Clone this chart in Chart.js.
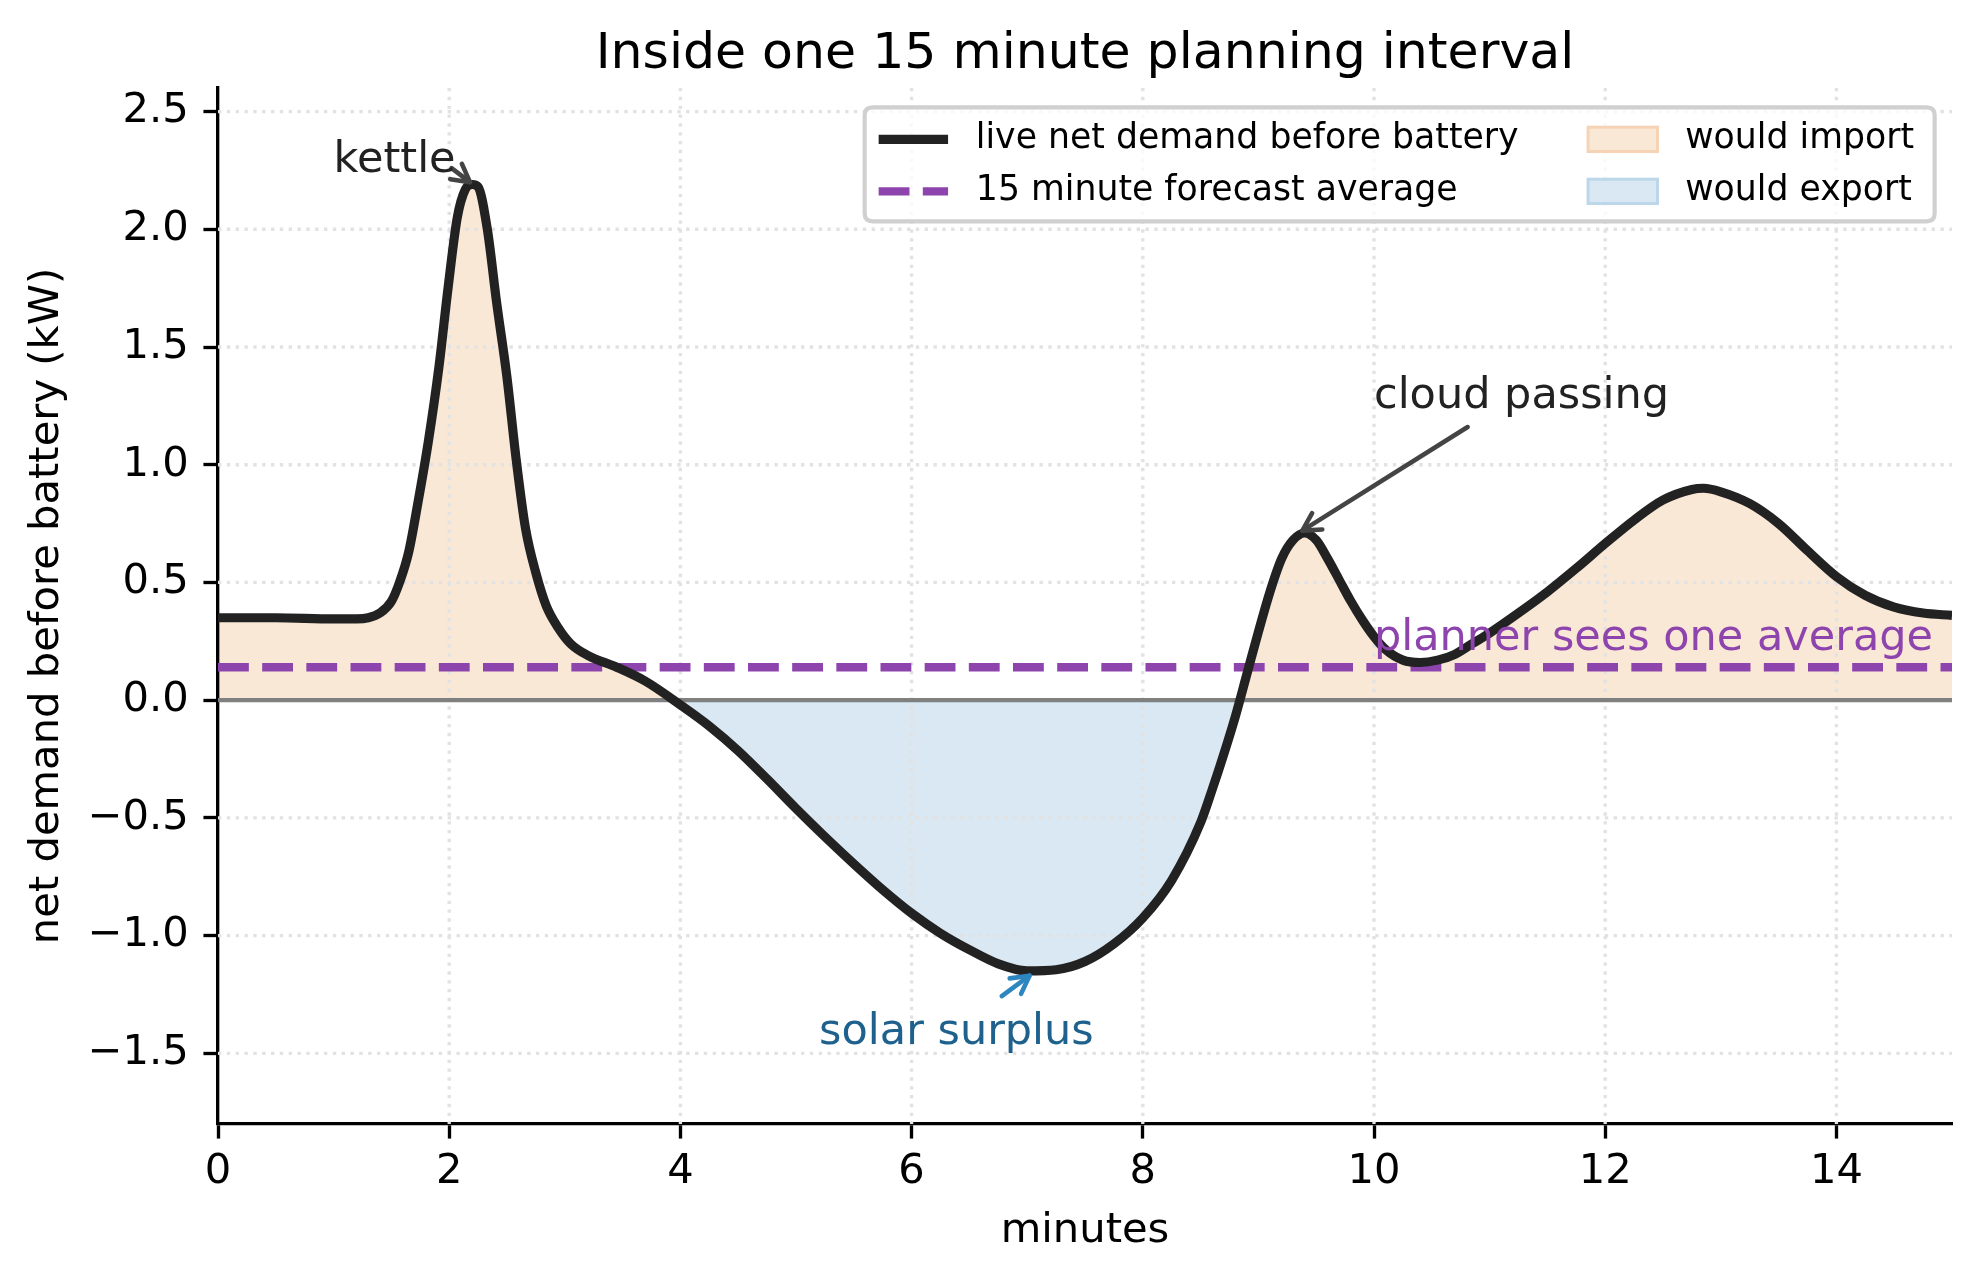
<!DOCTYPE html>
<html><head><meta charset="utf-8">
<script src="https://cdn.jsdelivr.net/npm/chart.js@4.4.1/dist/chart.umd.min.js"></script>
<style>html,body{margin:0;padding:0;background:#fff;} canvas{display:block;}</style>
</head><body>
<canvas id="c" width="1980" height="1279"></canvas>
<script>
// ---- data ----
const minutes = [0.0, 0.5, 1.0, 1.2, 1.3, 1.4, 1.5, 1.57, 1.65, 1.73, 1.82, 1.91, 1.99, 2.07, 2.14, 2.2, 2.25, 2.33, 2.41, 2.5, 2.58, 2.66, 2.75, 2.84, 2.94, 3.05, 3.2, 3.45, 3.7, 4.0, 4.25, 4.5, 4.75, 5.0, 5.25, 5.5, 5.75, 6.0, 6.25, 6.5, 6.75, 7.0, 7.25, 7.5, 7.75, 8.0, 8.25, 8.5, 8.6, 8.7, 8.8, 8.9, 9.0, 9.1, 9.2, 9.3, 9.4, 9.5, 9.6, 9.7, 9.8, 9.9, 10.0, 10.1, 10.25, 10.4, 10.55, 10.7, 10.85, 11.0, 11.25, 11.5, 11.75, 12.0, 12.25, 12.5, 12.75, 12.85, 13.0, 13.25, 13.5, 13.75, 14.0, 14.25, 14.5, 14.75, 15.0];
const netDemand = [0.35, 0.35, 0.345, 0.345, 0.35, 0.37, 0.42, 0.50, 0.63, 0.84, 1.10, 1.41, 1.75, 2.05, 2.17, 2.19, 2.18, 2.0, 1.69, 1.37, 1.02, 0.73, 0.54, 0.40, 0.31, 0.24, 0.19, 0.14, 0.08, -0.02, -0.11, -0.215, -0.335, -0.46, -0.58, -0.695, -0.805, -0.905, -0.99, -1.06, -1.12, -1.15, -1.145, -1.11, -1.035, -0.925, -0.765, -0.52, -0.38, -0.23, -0.07, 0.11, 0.29, 0.46, 0.60, 0.68, 0.71, 0.68, 0.60, 0.51, 0.42, 0.34, 0.27, 0.215, 0.17, 0.16, 0.17, 0.195, 0.24, 0.285, 0.37, 0.46, 0.56, 0.665, 0.765, 0.85, 0.895, 0.90, 0.885, 0.835, 0.75, 0.635, 0.525, 0.445, 0.395, 0.37, 0.36];
const forecastAverage = 0.14;
const xTicks = [0, 2, 4, 6, 8, 10, 12, 14];
const yTicks = [-1.5, -1.0, -0.5, 0.0, 0.5, 1.0, 1.5, 2.0, 2.5];
const xRange = [0, 15];
const yRange = [-1.8, 2.6];
const titleText = 'Inside one 15 minute planning interval';
const xLabel = 'minutes';
const yLabel = 'net demand before battery (kW)';
const legendLabels = ['live net demand before battery', '15 minute forecast average', 'would import', 'would export'];
const annotations = [
  {text: 'kettle', at: [1.0, 2.245], from: [2.02, 2.26], to: [2.18, 2.20], color: '#222222', arrow: '#444444'},
  {text: 'cloud passing', at: [10.0, 1.24], from: [10.81, 1.16], to: [9.38, 0.72], color: '#222222', arrow: '#444444'},
  {text: 'solar surplus', at: [5.2, -1.459], from: [6.78, -1.257], to: [7.02, -1.17], color: '#1f618d', arrow: '#2e86c1'},
  {text: 'planner sees one average', at: [10.0, 0.215], color: '#8e44ad'}
];

// ---- styles ----
const FONT = "'DejaVu Sans', sans-serif";
const importFill = '#fae8d7';
const exportFill = '#d9e8f2';
const lineColor = '#222222';
const avgColor = '#8e44ad';
const PT = 300 / 72;

const curve = minutes.map((m, i) => ({x: m, y: netDemand[i]}));
const avgLine = xRange.map(v => ({x: v, y: forecastAverage}));
const zeroLine = xRange.map(v => ({x: v, y: 0}));

const gridPlugin = {
  id: 'mplGrid',
  beforeDatasetsDraw(chart) {
    const {ctx, chartArea: a, scales: {x, y}} = chart;
    ctx.save();
    ctx.strokeStyle = '#e2e2e2';
    ctx.lineWidth = 0.8 * PT;
    ctx.setLineDash([0.8 * PT, 1.32 * PT]);
    xTicks.forEach(v => {
      if (v === xRange[0]) return;
      const px = x.getPixelForValue(v);
      ctx.beginPath(); ctx.moveTo(px, a.top); ctx.lineTo(px, a.bottom); ctx.stroke();
    });
    yTicks.forEach(v => {
      const py = y.getPixelForValue(v);
      ctx.beginPath(); ctx.moveTo(a.left, py); ctx.lineTo(a.right, py); ctx.stroke();
    });
    ctx.restore();
  }
};

function arrowHead(ctx, x0, y0, x1, y1, len, ang) {
  const t = Math.atan2(y0 - y1, x0 - x1);
  ctx.beginPath();
  ctx.moveTo(x1 + len * Math.cos(t + ang), y1 + len * Math.sin(t + ang));
  ctx.lineTo(x1, y1);
  ctx.lineTo(x1 + len * Math.cos(t - ang), y1 + len * Math.sin(t - ang));
  ctx.stroke();
}

const annotPlugin = {
  id: 'annot',
  afterDatasetsDraw(chart) {
    const {ctx, chartArea: a, scales: {x, y}} = chart;
    ctx.save();
    ctx.font = `${50.5}px ${FONT}`;
    ctx.fillStyle = '#000';
    ctx.textAlign = 'center';
    ctx.textBaseline = 'alphabetic';
    ctx.fillText(titleText, (a.left + a.right) / 2, 68);
    ctx.font = `${43}px ${FONT}`;
    ctx.textAlign = 'left';
    annotations.forEach(an => {
      if (an.from) {
        const x0 = x.getPixelForValue(an.from[0]), y0 = y.getPixelForValue(an.from[1]);
        const x1 = x.getPixelForValue(an.to[0]), y1 = y.getPixelForValue(an.to[1]);
        ctx.strokeStyle = an.arrow;
        ctx.lineWidth = 1.1 * PT;
        ctx.lineCap = 'round';
        ctx.lineJoin = 'round';
        ctx.beginPath(); ctx.moveTo(x0, y0); ctx.lineTo(x1, y1); ctx.stroke();
        arrowHead(ctx, x0, y0, x1, y1, 20, 0.5);
      }
      ctx.fillStyle = an.color;
      ctx.fillText(an.text, x.getPixelForValue(an.at[0]), y.getPixelForValue(an.at[1]));
    });
    ctx.restore();
  }
};

const legendPlugin = {
  id: 'mplLegend',
  afterDraw(chart) {
    const {ctx, chartArea: a} = chart;
    const fs = 8.33 * PT;
    const pad = 0.5 * fs;
    const right = a.right - pad, top = a.top + pad + 2;
    const bw = 1070, bh = 114;
    const left = right - bw;
    ctx.save();
    const r = 8;
    ctx.beginPath();
    ctx.moveTo(left + r, top); ctx.lineTo(right - r, top); ctx.quadraticCurveTo(right, top, right, top + r);
    ctx.lineTo(right, top + bh - r); ctx.quadraticCurveTo(right, top + bh, right - r, top + bh);
    ctx.lineTo(left + r, top + bh); ctx.quadraticCurveTo(left, top + bh, left, top + bh - r);
    ctx.lineTo(left, top + r); ctx.quadraticCurveTo(left, top, left + r, top);
    ctx.closePath();
    ctx.fillStyle = 'rgba(255,255,255,0.8)';
    ctx.fill();
    ctx.strokeStyle = '#d0d0d0';
    ctx.lineWidth = 1 * PT;
    ctx.stroke();
    ctx.font = `${fs}px ${FONT}`;
    ctx.textBaseline = 'middle';
    ctx.textAlign = 'left';
    ctx.fillStyle = '#000';
    const row1 = top + 32, row2 = row1 + 52;
    const hx = left + 14, hw = 2.0 * fs;
    ctx.lineWidth = 2.2 * PT; ctx.strokeStyle = lineColor; ctx.lineCap = 'butt';
    ctx.beginPath(); ctx.moveTo(hx, row1); ctx.lineTo(hx + hw, row1); ctx.stroke();
    ctx.lineWidth = 2 * PT; ctx.strokeStyle = avgColor; ctx.setLineDash([3.7 * 2 * PT, 1.6 * 2 * PT]);
    ctx.beginPath(); ctx.moveTo(hx, row2); ctx.lineTo(hx + hw, row2); ctx.stroke();
    ctx.setLineDash([]);
    const tx1 = hx + hw + 0.8 * fs;
    ctx.fillText(legendLabels[0], tx1, row1);
    ctx.fillText(legendLabels[1], tx1, row2);
    const w1 = Math.max(ctx.measureText(legendLabels[0]).width, ctx.measureText(legendLabels[1]).width);
    const hx2 = tx1 + w1 + 2.0 * fs;
    const ph = 0.7 * fs;
    ctx.lineWidth = 3;
    ctx.fillStyle = importFill; ctx.strokeStyle = '#f6d3b4';
    ctx.fillRect(hx2, row1 - ph / 2, hw, ph); ctx.strokeRect(hx2, row1 - ph / 2, hw, ph);
    ctx.fillStyle = exportFill; ctx.strokeStyle = '#bcd6ea';
    ctx.fillRect(hx2, row2 - ph / 2, hw, ph); ctx.strokeRect(hx2, row2 - ph / 2, hw, ph);
    ctx.fillStyle = '#000';
    const tx2 = hx2 + hw + 0.8 * fs;
    ctx.fillText(legendLabels[2], tx2, row1);
    ctx.fillText(legendLabels[3], tx2, row2);
    ctx.restore();
  }
};

const fmtY = v => (v < 0 ? '\u2212' : '') + Math.abs(v).toFixed(1);

new Chart(document.getElementById('c'), {
  type: 'line',
  data: {
    datasets: [
      {label: legendLabels[0], data: curve, borderColor: lineColor, borderWidth: 2.2 * PT, pointRadius: 0,
       borderJoinStyle: 'round', borderCapStyle: 'butt', cubicInterpolationMode: 'monotone', order: 0,
       fill: {target: 'origin', above: importFill, below: exportFill}},
      {label: legendLabels[1], data: avgLine, borderColor: avgColor, borderWidth: 2 * PT, pointRadius: 0,
       borderDash: [3.7 * 2 * PT, 1.6 * 2 * PT], borderCapStyle: 'butt', fill: false, order: 1},
      {label: 'zero', data: zeroLine, borderColor: '#808080', borderWidth: 1 * PT, pointRadius: 0, fill: false, order: 2}
    ]
  },
  options: {
    responsive: false,
    animation: false,
    devicePixelRatio: 1,
    layout: {padding: {left: 0, right: 28, top: 88, bottom: 0}},
    plugins: {
      legend: {display: false},
      tooltip: {enabled: false},
      title: {display: false},
      filler: {drawTime: 'beforeDraw'}
    },
    scales: {
      x: {
        type: 'linear', min: xRange[0], max: xRange[1],
        afterBuildTicks: s => { s.ticks = xTicks.map(v => ({value: v})); },
        afterFit: s => { s.height = 1279 - 1124; },
        ticks: {color: '#000', font: {family: FONT, size: 10 * PT}, padding: 9, maxRotation: 0, autoSkip: false,
                callback: v => String(v)},
        grid: {drawOnChartArea: false, drawTicks: true, tickLength: 3.5 * PT, tickColor: '#000', tickWidth: 0.8 * PT},
        border: {display: true, color: '#000', width: 0.8 * PT},
        title: {display: true, text: xLabel, color: '#000', font: {family: FONT, size: 10 * PT}, padding: {top: 0, bottom: 23}}
      },
      y: {
        type: 'linear', min: yRange[0], max: yRange[1],
        afterBuildTicks: s => { s.ticks = yTicks.map(v => ({value: v})); },
        afterFit: s => { s.width = 218; },
        ticks: {color: '#000', font: {family: FONT, size: 10 * PT}, padding: 3.5 * PT, autoSkip: false, callback: fmtY},
        grid: {drawOnChartArea: false, drawTicks: true, tickLength: 3.5 * PT, tickColor: '#000', tickWidth: 0.8 * PT},
        border: {display: true, color: '#000', width: 0.8 * PT},
        title: {display: true, text: yLabel, color: '#000', font: {family: FONT, size: 10 * PT}, padding: {top: 22, bottom: 0}}
      }
    }
  },
  plugins: [gridPlugin, annotPlugin, legendPlugin]
});
</script>
</body></html>
